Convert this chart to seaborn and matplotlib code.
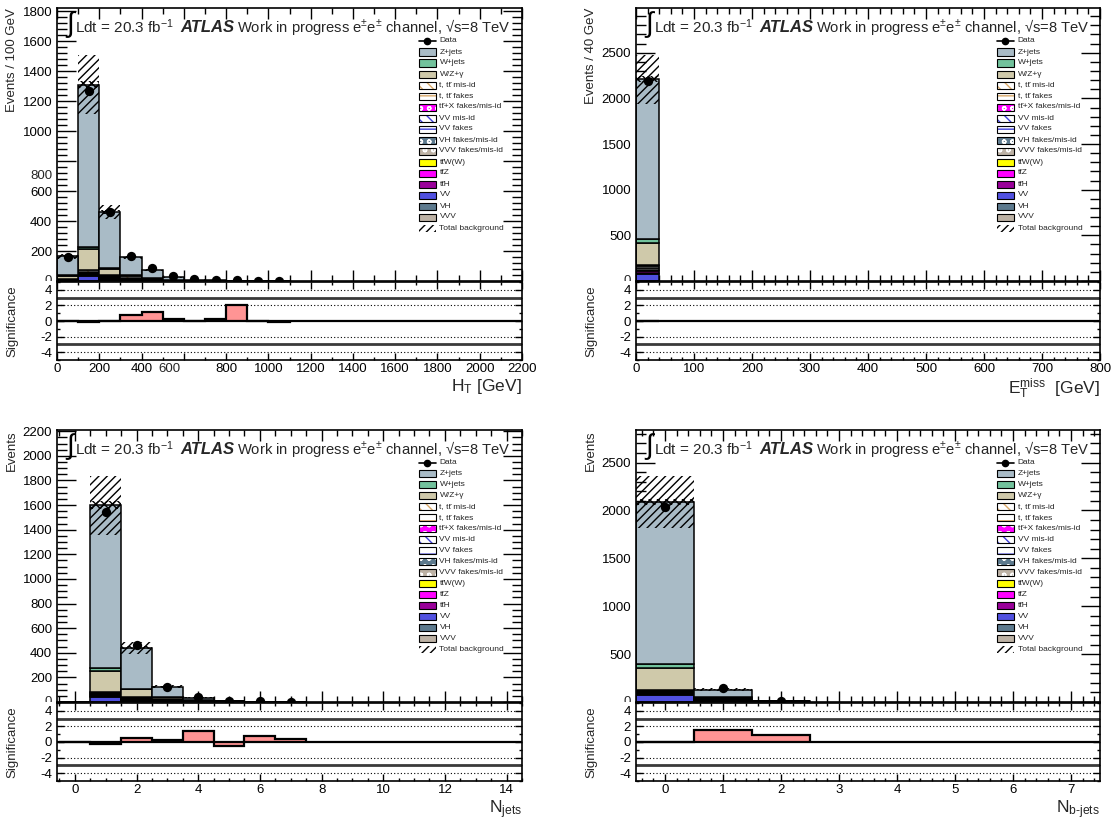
import numpy as np
import matplotlib
matplotlib.use('Agg')
import matplotlib.pyplot as plt
import matplotlib.transforms as mtrans
import seaborn as sns
from matplotlib.patches import Rectangle
from matplotlib.lines import Line2D
from matplotlib.ticker import MultipleLocator, FixedLocator, FixedFormatter, FuncFormatter

# ---------------- data ----------------
# H_T, 100 GeV bins from 0 to 1100
ht_edges = [0, 100, 200, 300, 400, 500, 600, 700, 800, 900, 1000, 1100]
ht_vv = [5, 33, 8, 3, 1, 0.5, 0, 0, 0, 0, 0]
ht_tth = [1, 5, 4, 2, 1, 0.5, 0, 0, 0, 0, 0]
ht_ttz = [1, 6, 5, 4, 2, 1, 0.5, 0, 0, 0, 0]
ht_ttw = [1, 6, 6, 5, 2, 1, 0.5, 0.5, 0, 0, 0]
ht_vv_fakes = [1, 3, 2, 1, 0.5, 0, 0, 0, 0, 0, 0]
ht_top_fakes = [2, 8, 6, 8, 3, 1, 0.5, 0.5, 0.3, 0.2, 0]
ht_top_misid = [3, 10, 6, 10, 4, 2, 1, 0.5, 0.3, 0.2, 0.2]
ht_wzg = [20, 140, 45, 8, 3, 1, 0.5, 0.5, 0.2, 0.2, 0]
ht_wjets = [3, 15, 3, 2, 1, 0.5, 0, 0, 0, 0, 0]
ht_zjets = [128, 1084, 375, 115, 54.5, 17.5, 6, 3, 1.2, 1.4, 1.8]
ht_data = [160, 1270, 460, 165, 85, 32, 12, 9, 8, 3, 2]
ht_err = [15, 195, 45, 12, 6, 3, 1, 1, 0.5, 0.5, 0.5]
ht_stat = [10, 25, 12, 5, 3, 1, 0.5, 0.5, 0.3, 0.3, 0.3]
ht_sig = [-0.05, -0.15, 0.0, 0.75, 1.1, 0.2, 0.05, 0.2, 2.1, 0.0, -0.15]

# E_T^miss, one 40 GeV bin filled
met_edges = [0, 40]
met_vv = [78]
met_tth = [12]
met_ttz = [15]
met_ttw = [15]
met_vv_fakes = [20]
met_top_fakes = [20]
met_top_misid = [20]
met_wzg = [240]
met_wjets = [45]
met_zjets = [1745]
met_data = [2195]
met_err = [270]
met_stat = [30]
met_sig = [-0.05]

# N_jets, bins centred on 0..7
nj_edges = [-0.5, 0.5, 1.5, 2.5, 3.5, 4.5, 5.5, 6.5, 7.5]
nj_vv = [0, 40, 10, 3, 1, 0, 0, 0]
nj_tth = [0, 8, 4, 2, 1, 0, 0, 0]
nj_ttz = [0, 10, 5, 3, 1, 0.5, 0, 0]
nj_ttw = [0, 10, 5, 4, 2, 1, 0, 0]
nj_vv_fakes = [0, 5, 3, 1, 0.5, 0, 0, 0]
nj_top_fakes = [0, 5, 6, 5, 3, 1, 0.5, 0]
nj_top_misid = [0, 7, 10, 8, 4, 2, 0.5, 0]
nj_wzg = [0, 165, 60, 12, 4, 1, 0, 0]
nj_wjets = [0, 30, 5, 2, 1, 0, 0, 0]
nj_zjets = [0, 1320, 332, 84, 17.5, 3, 0.5, 0]
nj_data = [0, 1540, 460, 125, 40, 10, 5, 3]
nj_err = [0, 240, 50, 12, 4, 1.5, 0.5, 0]
nj_stat = [0, 30, 12, 5, 2, 1, 0.3, 0]
nj_sig = [0, -0.2, 0.55, 0.3, 1.4, -0.5, 0.75, 0.35]

# N_b-jets, bins centred on 0..2
nb_edges = [-0.5, 0.5, 1.5, 2.5]
nb_vv = [70, 3, 0.5]
nb_tth = [10, 5, 1]
nb_ttz = [12, 8, 1]
nb_ttw = [10, 8, 1]
nb_vv_fakes = [8, 2, 0]
nb_top_fakes = [10, 8, 1]
nb_top_misid = [10, 8, 1]
nb_wzg = [230, 10, 1]
nb_wjets = [35, 3, 0]
nb_zjets = [1690, 75, 3.5]
nb_data = [2040, 150, 15]
nb_err = [270, 15, 2]
nb_stat = [30, 8, 1]
nb_sig = [0.0, 1.6, 0.85]

legend_labels = ['Data', 'Z+jets', 'W+jets', 'W/Z+\u03b3',
                 't, tt\u0304 mis-id', 't, tt\u0304 fakes', 'tt\u0304+X fakes/mis-id',
                 'VV mis-id', 'VV fakes', 'VH fakes/mis-id', 'VVV fakes/mis-id',
                 'tt\u0304W(W)', 'tt\u0304Z', 'tt\u0304H', 'VV', 'VH', 'VVV',
                 'Total background']

# ---------------- style ----------------
C_ZJETS = '#a9bbc6'
C_WJETS = '#72c29c'
C_WZG = '#cfc9aa'
C_TOP = '#d9a868'
C_TTX = '#ff00ff'
C_VVLINE = '#3c3cd8'
C_VH = '#5d7a8e'
C_VVV = '#bdb2a5'
C_TTW = '#ffff00'
C_TTZ = '#ff00ff'
C_TTH = '#990099'
C_VV = '#5050e0'
C_SIG = '#ff9494'

sns.set_theme(style='ticks')
plt.rcParams['font.family'] = ['Liberation Sans', 'DejaVu Sans']
plt.rcParams['mathtext.fontset'] = 'custom'
plt.rcParams['mathtext.rm'] = 'Liberation Sans'
plt.rcParams['mathtext.it'] = 'Liberation Sans:italic'
plt.rcParams['mathtext.bf'] = 'Liberation Sans:bold'
plt.rcParams['axes.unicode_minus'] = False
plt.rcParams['hatch.linewidth'] = 1.0

W, H = 1116, 819
fig = plt.figure(figsize=(W / 100, H / 100), dpi=100)


def rect(x0, x1, ytop, ybot):
    return [x0 / W, 1 - ybot / H, (x1 - x0) / W, (ybot - ytop) / H]


def style_frame(ax, ylen=14, xlen=8):
    ax.tick_params(which='both', direction='in', top=True, right=True,
                   labelsize=9.5, width=1, colors='black')
    ax.tick_params(axis='y', which='major', length=ylen)
    ax.tick_params(axis='y', which='minor', length=ylen / 2)
    ax.tick_params(axis='x', which='major', length=xlen, pad=2.5)
    ax.tick_params(axis='x', which='minor', length=xlen / 2)
    for s in ax.spines.values():
        s.set_linewidth(1.2)
        s.set_color('black')


def draw_stack(ax, edges, layers):
    edges = np.asarray(edges, float)
    left = edges[:-1]
    width = np.diff(edges)
    bottom = np.zeros(len(left))
    for vals, fc, hatch, hc in layers:
        vals = np.asarray(vals, float)
        if hatch:
            ax.bar(left, vals, width, bottom, align='edge', color='white',
                   edgecolor=hc, hatch=hatch, linewidth=0, zorder=2)
            ax.bar(left, vals, width, bottom, align='edge', fill=False,
                   edgecolor='black', linewidth=1.1, zorder=2)
        else:
            ax.bar(left, vals, width, bottom, align='edge', color=fc,
                   edgecolor='black', linewidth=1.1, zorder=2)
        bottom = bottom + vals
    return bottom


def draw_main(ax, edges, layers, data, err, stat):
    total = draw_stack(ax, edges, layers)
    err = np.asarray(err, float)
    stat = np.asarray(stat, float)
    ax.stairs(total + err, edges, baseline=total - err, fill=True, facecolor='none',
              edgecolor='black', hatch='////', linewidth=0, zorder=3)
    ax.stairs(total + stat, edges, baseline=total - stat, fill=True, facecolor='none',
              edgecolor='black', hatch='xxxx', linewidth=0, zorder=3)
    centers = 0.5 * (np.asarray(edges[:-1], float) + np.asarray(edges[1:], float))
    data = np.asarray(data, float)
    keep = data > 0
    sns.scatterplot(x=centers[keep], y=data[keep], ax=ax, color='black', s=45,
                    linewidth=0, zorder=5, legend=False)
    ax.tick_params(axis='x', labelbottom=False)


def draw_sig(ax, edges, sig):
    for yv in (4, 2, -2, -4):
        ax.axhline(yv, color='black', lw=0.8, ls=(0, (1, 2)), zorder=1)
    for yv in (3, -3):
        ax.axhline(yv, color='#3a3a3a', lw=2.0, zorder=1)
    ax.stairs(sig, edges, fill=True, facecolor=C_SIG, edgecolor='black',
              linewidth=1.6, zorder=3)
    ax.axhline(0, color='black', lw=1.6, zorder=4)
    ax.set_ylim(-5, 5)
    ax.yaxis.set_major_locator(FixedLocator([-4, -2, 0, 2, 4]))
    ax.yaxis.set_minor_locator(MultipleLocator(1))
    style_frame(ax, ylen=5, xlen=5)


def atlas_label(ax):
    ax.text(0.02, 0.94, '\u222b', transform=ax.transAxes, fontsize=20,
            va='center', ha='left', family=['Liberation Sans', 'DejaVu Sans'], color='black')
    ax.text(0.039, 0.93, 'Ldt = 20.3 fb$^{-1}$', transform=ax.transAxes,
            fontsize=11, va='center', ha='left')
    ax.text(0.265, 0.93, 'ATLAS', transform=ax.transAxes, fontsize=12,
            weight='bold', style='italic', va='center', ha='left')
    ax.text(0.387, 0.93, 'Work in progress e$^{\\pm}$e$^{\\pm}$ channel, \u221as=8 TeV',
            transform=ax.transAxes, fontsize=10.6, va='center', ha='left')


def add_legend(ax):
    # (facecolor, hatch, hatch colour) for each legend entry after "Data"
    boxes = [(C_ZJETS, None, None), (C_WJETS, None, None), (C_WZG, None, None),
             ('white', '\\\\\\', C_TOP), ('white', '--', C_TOP), (C_TTX, 'oo', 'white'),
             ('white', '\\\\\\', C_VVLINE), ('white', '--', C_VVLINE),
             (C_VH, 'oo', 'white'), (C_VVV, 'oo', 'white'),
             (C_TTW, None, None), (C_TTZ, None, None), (C_TTH, None, None),
             (C_VV, None, None), (C_VH, None, None), (C_VVV, None, None)]
    fh = 273.0
    x0 = 0.778
    bw = 17 / 465
    bh = 7 / fh
    tx = x0 + bw + 0.008
    for i, label in enumerate(legend_labels):
        yc = 1 - (33 + 11 * i) / fh
        if i == 0:
            ax.add_line(Line2D([x0, x0 + bw], [yc, yc], transform=ax.transAxes,
                               color='black', lw=1.2, clip_on=False))
            ax.add_line(Line2D([x0 + bw / 2], [yc], transform=ax.transAxes, color='black',
                               marker='o', ms=4.5, clip_on=False))
        elif i == len(legend_labels) - 1:
            ax.add_patch(Rectangle((x0, yc - bh / 2), bw, bh, transform=ax.transAxes,
                                   facecolor='none', edgecolor='black', hatch='////',
                                   lw=0, clip_on=False))
        else:
            fc, hatch, hc = boxes[i - 1]
            if hatch:
                ax.add_patch(Rectangle((x0, yc - bh / 2), bw, bh, transform=ax.transAxes,
                                       facecolor=fc, edgecolor=hc, hatch=hatch, lw=0,
                                       clip_on=False))
                ax.add_patch(Rectangle((x0, yc - bh / 2), bw, bh, transform=ax.transAxes,
                                       facecolor='none', edgecolor='black', lw=0.8,
                                       clip_on=False))
            else:
                ax.add_patch(Rectangle((x0, yc - bh / 2), bw, bh, transform=ax.transAxes,
                                       facecolor=fc, edgecolor='black', lw=0.8,
                                       clip_on=False))
        ax.text(tx, yc, label, transform=ax.transAxes, fontsize=6, va='center', ha='left')


def layers_for(vv, tth, ttz, ttw, vvf, topf, topm, wzg, wj, zj):
    return [(vv, C_VV, None, None), (tth, C_TTH, None, None), (ttz, C_TTZ, None, None),
            (ttw, C_TTW, None, None), (vvf, None, '--', C_VVLINE),
            (topf, None, '--', C_TOP), (topm, None, '\\\\', C_TOP),
            (wzg, C_WZG, None, None), (wj, C_WJETS, None, None), (zj, C_ZJETS, None, None)]


def extra_label(ax, value, text, axis):
    if axis == 'y':
        tr = mtrans.blended_transform_factory(ax.transAxes, ax.transData)
        return ax.text(-0.0105, value, text, transform=tr, ha='right', va='center', fontsize=9.5)
    tr = mtrans.blended_transform_factory(ax.transData, ax.transAxes)
    return ax.text(value, -0.035, text, transform=tr, ha='center', va='top', fontsize=9.5)


def clipped_zero(ax, ybot):
    # the "0" of the main panel is cut by the significance pad, as in the original
    t = extra_label(ax, 0, '0', 'y')
    box = mtrans.TransformedBbox(mtrans.Bbox.from_extents(0, 1 - ybot / H, 1, 1), fig.transFigure)
    t.set_clip_box(box)
    t.set_clip_on(True)


def no_zero_fmt(skip=()):
    return FuncFormatter(lambda v, p: '' if (abs(v) < 1e-9 or v in skip) else f'{v:g}')


# ---------------- top left: H_T ----------------
ax = fig.add_axes(rect(57, 522, 8, 281))
draw_main(ax, ht_edges, layers_for(ht_vv, ht_tth, ht_ttz, ht_ttw, ht_vv_fakes, ht_top_fakes,
                                   ht_top_misid, ht_wzg, ht_wjets, ht_zjets),
          ht_data, ht_err, ht_stat)
ax.set_xlim(0, 2200)
ax.set_ylim(0, 1820)
ax.yaxis.set_major_locator(FixedLocator([0, 200, 400, 600, 800, 1000, 1200, 1400, 1600, 1800]))
ax.yaxis.set_major_formatter(no_zero_fmt(skip=(800,)))
ax.yaxis.set_minor_locator(MultipleLocator(40))
ax.xaxis.set_major_locator(MultipleLocator(200))
ax.xaxis.set_minor_locator(MultipleLocator(100))
style_frame(ax)
extra_label(ax, 700, '800', 'y')
clipped_zero(ax, 281)
atlas_label(ax)
add_legend(ax)

axs = fig.add_axes(rect(57, 522, 282, 360))
draw_sig(axs, ht_edges, ht_sig)
axs.set_xlim(0, 2200)
xt = list(range(0, 2400, 200))
axs.xaxis.set_major_locator(FixedLocator(xt))
axs.xaxis.set_major_formatter(FixedFormatter(['' if v == 600 else str(v) for v in xt]))
axs.xaxis.set_minor_locator(MultipleLocator(100))
extra_label(axs, 534, '600', 'x')

fig.text(12 / W, 1 - 8 / H, 'Events / 100 GeV', rotation=90, ha='center', va='top', fontsize=9.5)
fig.text(12 / W, 1 - 321 / H, 'Significance', rotation=90, ha='center', va='center', fontsize=9.5)
fig.text(522 / W, 1 - 377 / H, 'H$_{\\mathrm{T}}$ [GeV]', ha='right', va='top', fontsize=12.5)

# ---------------- top right: E_T^miss ----------------
ax = fig.add_axes(rect(636, 1100, 8, 281))
draw_main(ax, met_edges, layers_for(met_vv, met_tth, met_ttz, met_ttw, met_vv_fakes, met_top_fakes,
                                    met_top_misid, met_wzg, met_wjets, met_zjets),
          met_data, met_err, met_stat)
ax.set_xlim(0, 800)
ax.set_ylim(0, 2990)
ax.yaxis.set_major_locator(FixedLocator([0, 500, 1000, 1500, 2000, 2500]))
ax.yaxis.set_major_formatter(no_zero_fmt())
ax.yaxis.set_minor_locator(MultipleLocator(100))
ax.xaxis.set_major_locator(MultipleLocator(100))
ax.xaxis.set_minor_locator(MultipleLocator(20))
style_frame(ax)
clipped_zero(ax, 281)
atlas_label(ax)
add_legend(ax)

axs = fig.add_axes(rect(636, 1100, 282, 360))
draw_sig(axs, met_edges, met_sig)
axs.set_xlim(0, 800)
axs.xaxis.set_major_locator(MultipleLocator(100))
axs.xaxis.set_minor_locator(MultipleLocator(20))

fig.text(591 / W, 1 - 8 / H, 'Events / 40 GeV', rotation=90, ha='center', va='top', fontsize=9.5)
fig.text(591 / W, 1 - 321 / H, 'Significance', rotation=90, ha='center', va='center', fontsize=9.5)
fig.text(1100 / W, 1 - 377 / H, 'E$_{\\mathrm{T}}^{\\mathrm{miss}}$  [GeV]', ha='right', va='top', fontsize=12.5)

# ---------------- bottom left: N_jets ----------------
ax = fig.add_axes(rect(57, 522, 430, 702))
draw_main(ax, nj_edges, layers_for(nj_vv, nj_tth, nj_ttz, nj_ttw, nj_vv_fakes, nj_top_fakes,
                                   nj_top_misid, nj_wzg, nj_wjets, nj_zjets),
          nj_data, nj_err, nj_stat)
ax.set_xlim(-0.58, 14.5)
ax.set_ylim(0, 2210)
ax.yaxis.set_major_locator(MultipleLocator(200))
ax.yaxis.set_major_formatter(no_zero_fmt())
ax.yaxis.set_minor_locator(MultipleLocator(50))
ax.xaxis.set_major_locator(MultipleLocator(2))
ax.xaxis.set_minor_locator(MultipleLocator(0.5))
style_frame(ax)
clipped_zero(ax, 702)
atlas_label(ax)
add_legend(ax)

axs = fig.add_axes(rect(57, 522, 703, 781))
draw_sig(axs, nj_edges, nj_sig)
axs.set_xlim(-0.58, 14.5)
axs.xaxis.set_major_locator(MultipleLocator(2))
axs.xaxis.set_minor_locator(MultipleLocator(0.5))

fig.text(12 / W, 1 - 430 / H, 'Events', rotation=90, ha='center', va='top', fontsize=9.5)
fig.text(12 / W, 1 - 742 / H, 'Significance', rotation=90, ha='center', va='center', fontsize=9.5)
fig.text(522 / W, 1 - 798 / H, 'N$_{\\mathrm{jets}}$', ha='right', va='top', fontsize=12.5)

# ---------------- bottom right: N_b-jets ----------------
ax = fig.add_axes(rect(636, 1100, 430, 702))
draw_main(ax, nb_edges, layers_for(nb_vv, nb_tth, nb_ttz, nb_ttw, nb_vv_fakes, nb_top_fakes,
                                   nb_top_misid, nb_wzg, nb_wjets, nb_zjets),
          nb_data, nb_err, nb_stat)
ax.set_xlim(-0.5, 7.5)
ax.set_ylim(0, 2840)
ax.yaxis.set_major_locator(MultipleLocator(500))
ax.yaxis.set_major_formatter(no_zero_fmt())
ax.yaxis.set_minor_locator(MultipleLocator(100))
ax.xaxis.set_major_locator(MultipleLocator(1))
ax.xaxis.set_minor_locator(MultipleLocator(0.2))
style_frame(ax)
clipped_zero(ax, 702)
atlas_label(ax)
add_legend(ax)

axs = fig.add_axes(rect(636, 1100, 703, 781))
draw_sig(axs, nb_edges, nb_sig)
axs.set_xlim(-0.5, 7.5)
axs.xaxis.set_major_locator(MultipleLocator(1))
axs.xaxis.set_minor_locator(MultipleLocator(0.2))

fig.text(591 / W, 1 - 430 / H, 'Events', rotation=90, ha='center', va='top', fontsize=9.5)
fig.text(591 / W, 1 - 742 / H, 'Significance', rotation=90, ha='center', va='center', fontsize=9.5)
fig.text(1100 / W, 1 - 798 / H, 'N$_{\\mathrm{b\u2010jets}}$', ha='right', va='top', fontsize=12.5)

fig.savefig('out.png', dpi=100)
